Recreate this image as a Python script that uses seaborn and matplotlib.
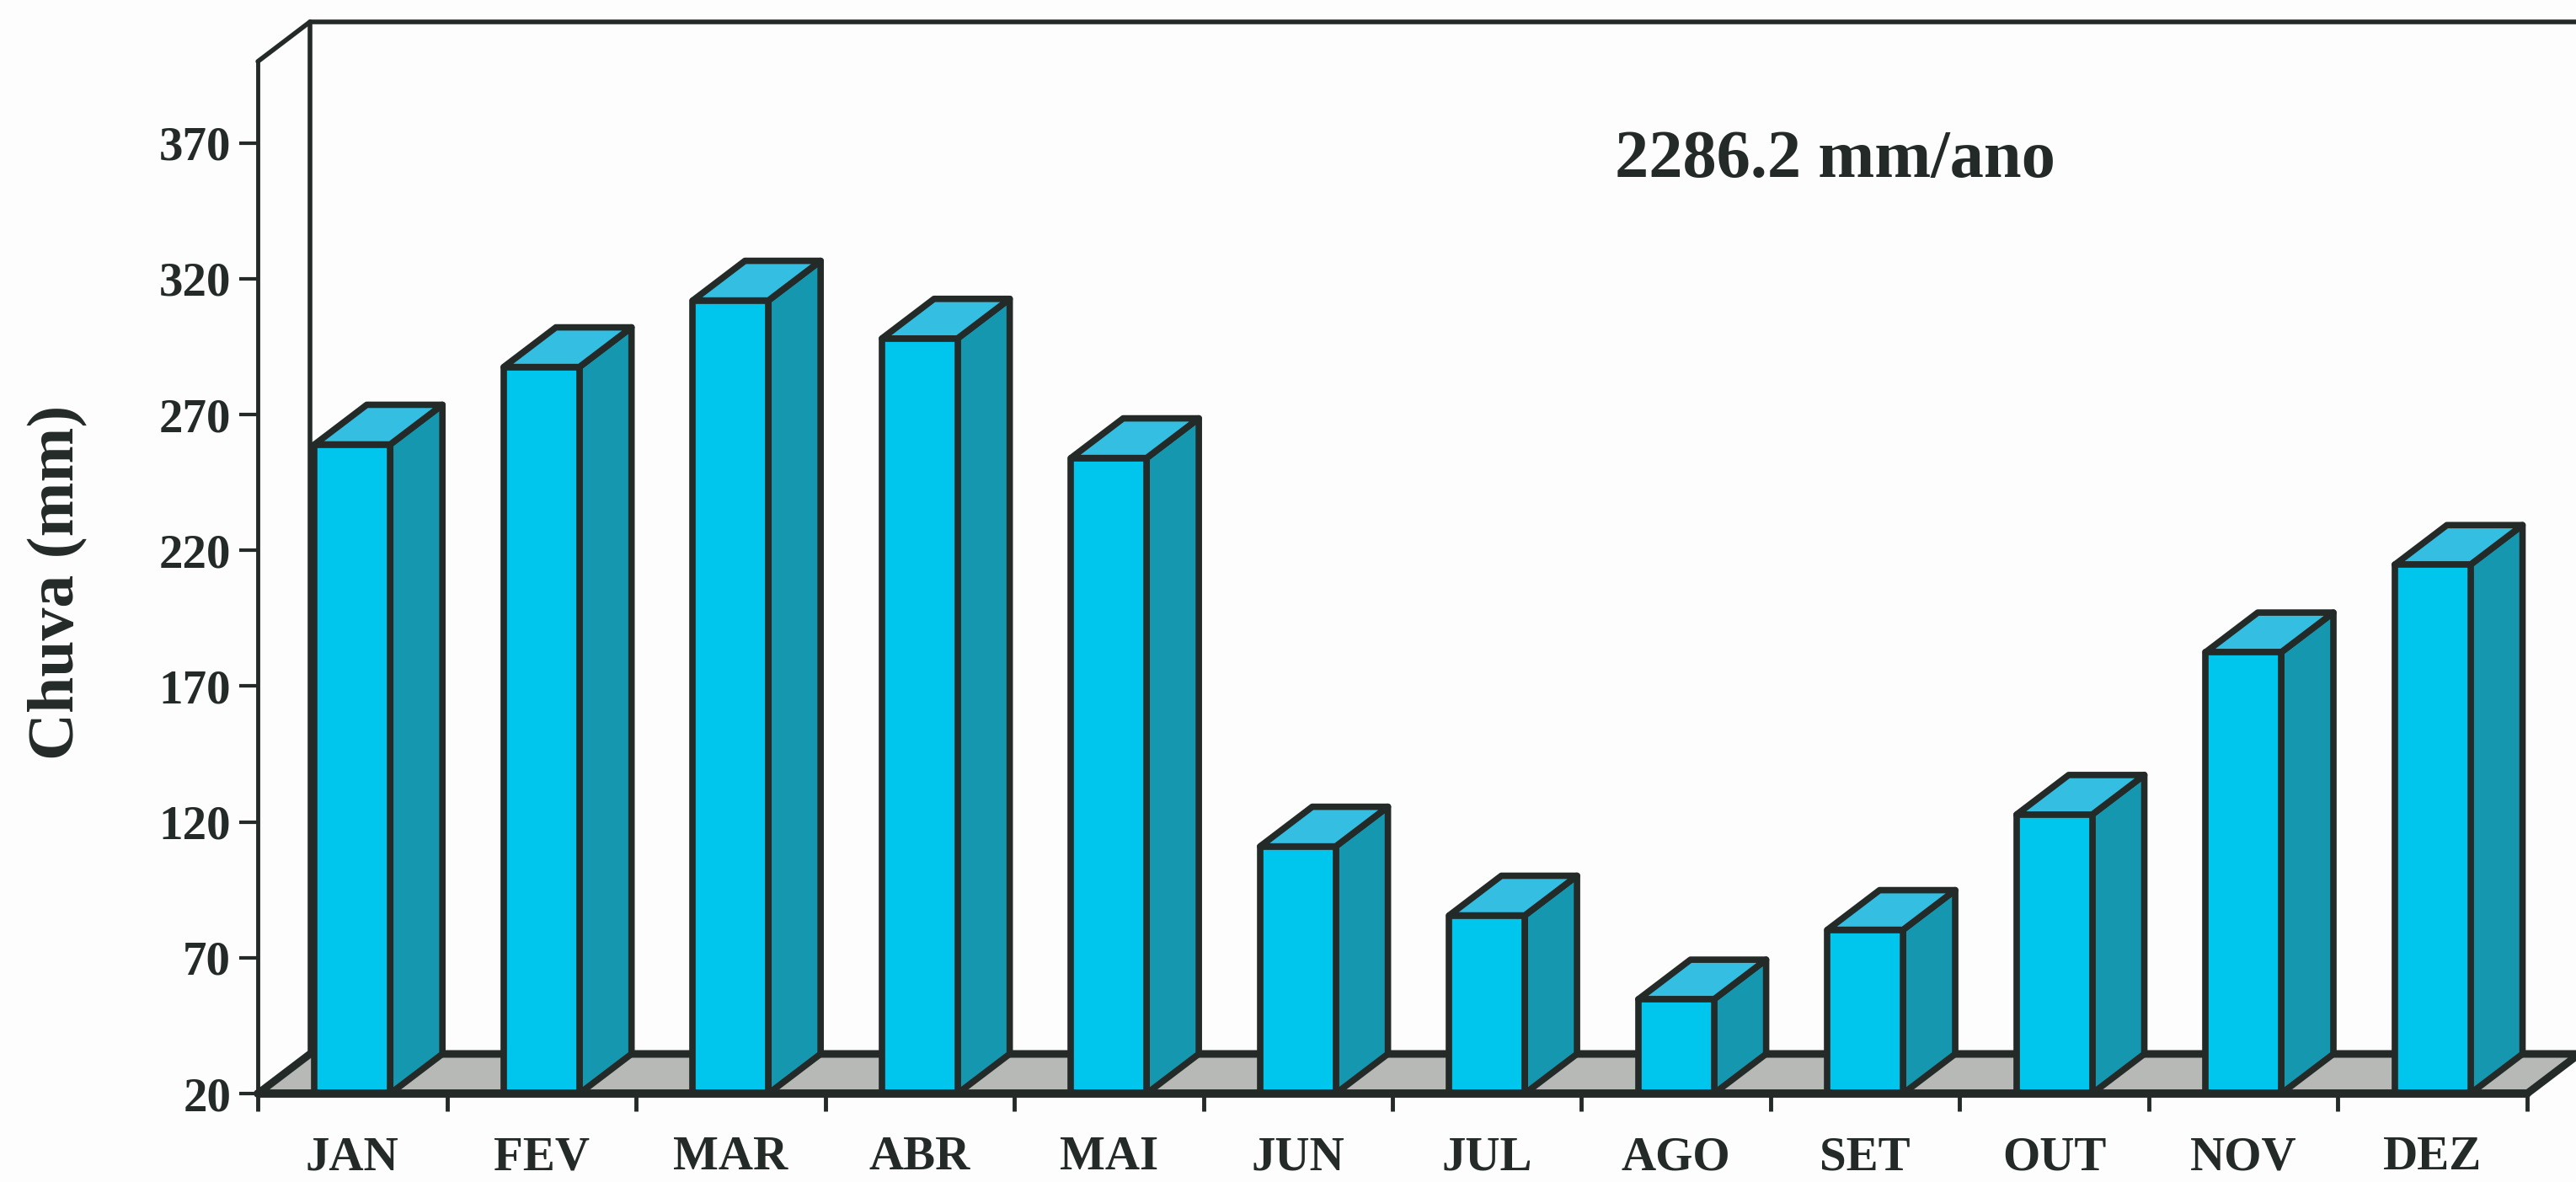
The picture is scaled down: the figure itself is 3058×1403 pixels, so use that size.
import numpy as np
import pandas as pd
import matplotlib
matplotlib.use("Agg")
import matplotlib.pyplot as plt
from matplotlib.patches import Polygon
from matplotlib.lines import Line2D
import seaborn as sns

# Monthly rainfall (mm)
months = ["JAN", "FEV", "MAR", "ABR", "MAI", "JUN", "JUL", "AGO", "SET", "OUT", "NOV", "DEZ"]
rain_mm = [259, 287.5, 312, 298, 254, 111, 85.6, 54.7, 80.3, 122.7, 182.5, 214.7]
y_ticks = [20, 70, 120, 170, 220, 270, 320, 370]
annual_label = "2286.2 mm/ano"
y_label = "Chuva (mm)"

sns.set_theme(style="white")
plt.rcParams["font.family"] = ["Liberation Serif", "DejaVu Serif"]
plt.rcParams["font.weight"] = "bold"

INK = "#232a27"
FRONT = "#00c6ee"
SIDE = "#1697b0"
TOP = "#34bfe2"
FLOOR = "#b6b9b5"
PAPER = "#fcfdfc"

Y0, Y1 = 20, 400          # value range of the box
DX, DY = 0.276, 14.6      # depth offset (categories, mm)

fig = plt.figure(figsize=(30.58, 14.03), dpi=100)
fig.patch.set_facecolor(PAPER)
ax = fig.add_axes([0.1001, 0.0748, 0.8809, 0.8732])
ax.set_facecolor("none")

df = pd.DataFrame({"mes": months, "chuva": rain_mm})
sns.barplot(data=df, x="mes", y="chuva", order=months, color=FRONT,
            width=0.4, saturation=1, edgecolor=INK, linewidth=5.5,
            ax=ax, zorder=4)
bars = list(ax.patches)
for p in bars:
    p.set_joinstyle("round")

ax.set_xlim(-0.5, 11.5)
ax.set_ylim(Y0, Y1)

# floor slab
ax.add_patch(Polygon([(-0.5, Y0), (11.5, Y0), (11.5 + DX, Y0 + DY), (-0.5 + DX, Y0 + DY)],
                     closed=True, facecolor=FLOOR, edgecolor=INK, linewidth=6.5,
                     joinstyle="round", clip_on=False, zorder=1))

# back wall and top edge of the side wall
wall_kw = dict(color=INK, linewidth=4, clip_on=False, zorder=0.5,
               solid_capstyle="round", solid_joinstyle="round")
ax.add_line(Line2D([-0.5 + DX, -0.5 + DX, 12.5], [Y0 + DY, Y1 + DY, Y1 + DY], **wall_kw))
ax.add_line(Line2D([-0.5, -0.5 + DX], [Y1, Y1 + DY], **wall_kw))

# side and top faces of each column
for p in bars:
    x0 = p.get_x()
    x1 = x0 + p.get_width()
    h = p.get_height()
    ax.add_patch(Polygon([(x1, Y0), (x1 + DX, Y0 + DY), (x1 + DX, h + DY), (x1, h)],
                         closed=True, facecolor=SIDE, edgecolor=INK, linewidth=5.5,
                         joinstyle="round", clip_on=False, zorder=3))
    ax.add_patch(Polygon([(x0, h), (x1, h), (x1 + DX, h + DY), (x0 + DX, h + DY)],
                         closed=True, facecolor=TOP, edgecolor=INK, linewidth=5.5,
                         joinstyle="round", clip_on=False, zorder=3))

# front edge of the floor
ax.add_line(Line2D([-0.5, 11.5], [Y0, Y0], color=INK, linewidth=7,
                   clip_on=False, zorder=6, solid_capstyle="round"))

# spines
for side in ["top", "right", "bottom"]:
    ax.spines[side].set_visible(False)
ax.spines["left"].set_color(INK)
ax.spines["left"].set_linewidth(3.5)
ax.spines["left"].set_zorder(5)

# y axis
ax.set_yticks(y_ticks)
ax.set_yticklabels([str(v) for v in y_ticks])
ax.tick_params(axis="y", which="major", direction="out", length=16, width=3,
               pad=7, labelsize=41, colors=INK, left=True)

# x axis: tick marks between months, labels centred
ax.set_xticks(np.arange(-0.5, 12, 1))
ax.set_xticklabels([])
ax.set_xticks(np.arange(12), minor=True)
ax.set_xticklabels(months, minor=True)
ax.tick_params(axis="x", which="major", direction="out", length=15, width=3.5,
               colors=INK, bottom=True)
ax.tick_params(axis="x", which="minor", length=0, pad=36, labelsize=41,
               labelcolor=INK, bottom=True)
ax.set_xlabel("")

ax.set_ylabel(y_label, fontsize=56, fontweight="bold", color=INK)
ax.yaxis.set_label_coords(-0.088, 0.4955)
ax.yaxis.label.set_verticalalignment("center")

fig.text(1917 / 3058, 1 - 210 / 1403, annual_label, fontsize=58,
         fontweight="bold", ha="left", va="baseline", color=INK)

fig.savefig("out.png", dpi=100, facecolor=PAPER)
